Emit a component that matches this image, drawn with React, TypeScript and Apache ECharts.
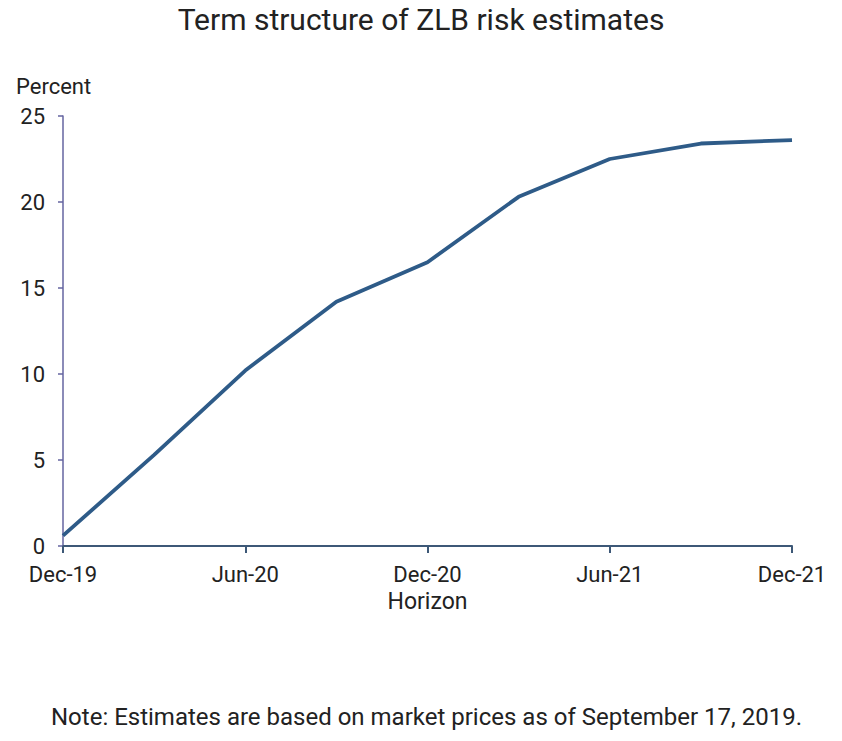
import React, { useEffect, useRef } from "react";
import * as echarts from "echarts";

const categories = ["Dec-19", "Mar-20", "Jun-20", "Sep-20", "Dec-20", "Mar-21", "Jun-21", "Sep-21", "Dec-21"];
const zlbRisk = [0.6, 5.3, 10.2, 14.2, 16.5, 20.3, 22.5, 23.4, 23.6];
const yTicks = [0, 5, 10, 15, 20, 25];

const titleText = "Term structure of ZLB risk estimates";
const yAxisName = "Percent";
const xAxisName = "Horizon";
const noteText = "Note: Estimates are based on market prices as of September 17, 2019.";

const FONT = "Roboto, 'Noto Sans', sans-serif";

export default function App() {
  const ref = useRef<HTMLDivElement>(null);
  useEffect(() => {
    if (!ref.current) return;
    const chart = echarts.init(ref.current, null, { renderer: "svg" });
    chart.setOption({
      animation: false,
      backgroundColor: "#ffffff",
      textStyle: { fontFamily: FONT },
      title: [
        {
          text: titleText,
          left: "center",
          top: -1,
          textStyle: { fontFamily: FONT, fontSize: 30, fontWeight: "normal", color: "#222222" },
        },
        {
          text: noteText,
          left: 46,
          top: 700,
          textStyle: { fontFamily: FONT, fontSize: 24, fontWeight: "normal", color: "#222222" },
        },
        {
          text: yAxisName,
          left: 11,
          top: 70,
          textStyle: { fontFamily: FONT, fontSize: 22, fontWeight: "normal", color: "#222222" },
        },
      ],
      grid: { left: 63, right: 50, top: 116, bottom: 195, containLabel: false },
      xAxis: {
        type: "category",
        data: categories,
        boundaryGap: false,
        name: xAxisName,
        nameLocation: "middle",
        nameGap: 44,
        nameTextStyle: { fontFamily: FONT, fontSize: 23, color: "#222222" },
        axisLine: { show: true, lineStyle: { color: "#3d5877", width: 2 } },
        axisTick: { show: true, interval: 1, length: 7, lineStyle: { color: "#3d5877", width: 2 } },
        axisLabel: { interval: 1, margin: 17, fontFamily: FONT, fontSize: 22, color: "#222222" },
        splitLine: { show: false },
      },
      yAxis: {
        type: "value",
        min: yTicks[0],
        max: yTicks[yTicks.length - 1],
        interval: 5,
        axisLine: { show: true, lineStyle: { color: "#6464a0", width: 1.5 } },
        axisTick: { show: true, length: 5, lineStyle: { color: "#6464a0", width: 1.5 } },
        axisLabel: { margin: 18, fontFamily: FONT, fontSize: 22, color: "#222222" },
        splitLine: { show: false },
      },
      series: [
        {
          type: "line",
          data: zlbRisk,
          symbol: "none",
          lineStyle: { color: "#2e5b88", width: 3.8 },
        },
      ],
    });
    return () => chart.dispose();
  }, []);
  return <div ref={ref} style={{ position: "fixed", left: 0, top: 0, width: 842, height: 741 }} />;
}
